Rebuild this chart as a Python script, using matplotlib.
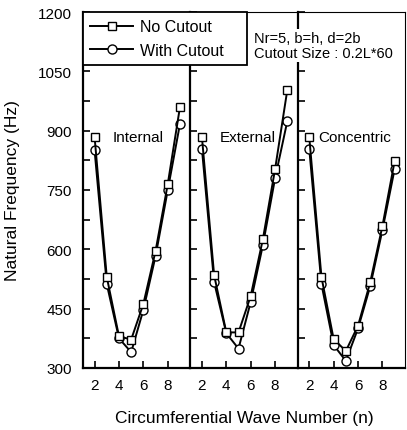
import numpy as np
import matplotlib.pyplot as plt
from matplotlib.ticker import MultipleLocator

plt.rcParams['font.family'] = ['Liberation Sans', 'DejaVu Sans']

# Numero de onda circunferencial
n = [2, 3, 4, 5, 6, 7, 8, 9]

# Frecuencias naturales (Hz) por tipo de recorte
internal_no = [884, 530, 380, 372, 462, 596, 765, 960]
internal_with = [850, 512, 375, 340, 447, 583, 750, 917]
external_no = [884, 535, 390, 390, 482, 626, 803, 1003]
external_with = [854, 517, 388, 349, 467, 611, 780, 924]
concentric_no = [884, 530, 373, 343, 407, 517, 659, 823]
concentric_with = [854, 512, 358, 318, 400, 507, 649, 803]

panels = [('Internal', internal_no, internal_with, 0.28),
          ('External', external_no, external_with, 0.27),
          ('Concentric', concentric_no, concentric_with, 0.19)]

fig = plt.figure(figsize=(4.07, 4.31), dpi=100)
left, right = 83 / 407, 405 / 407
bottom, top = 1 - 369 / 431, 1 - 13 / 431
w = (right - left) / 3

axes = []
for i, (name, y_no, y_with, tx) in enumerate(panels):
    ax = fig.add_axes([left + i * w, bottom, w, top - bottom])
    l2, = ax.plot(n, y_with, color='black', lw=1.4, marker='o', ms=6.5,
                  mfc='white', mec='black', mew=1.0, zorder=2)
    l1, = ax.plot(n, y_no, color='black', lw=1.4, marker='s', ms=5.5,
                  mfc='white', mec='black', mew=1.0, zorder=3)
    ax.set_xlim(1.05, 9.85)
    ax.set_ylim(300, 1200)
    ax.set_xticks([2, 4, 6, 8])
    ax.yaxis.set_major_locator(MultipleLocator(150))
    ax.yaxis.set_minor_locator(MultipleLocator(75))
    ax.tick_params(which='both', direction='in', length=5, width=1.2,
                   labelsize=11, top=False, right=False)
    ax.tick_params(axis='x', pad=7)
    ax.tick_params(axis='y', pad=8)
    if i > 0:
        ax.tick_params(axis='y', labelleft=False)
    for side in ['left', 'bottom']:
        ax.spines[side].set_linewidth(1.6)
    ax.spines['top'].set_linewidth(0.8)
    ax.spines['right'].set_visible(i == 2)
    ax.spines['right'].set_linewidth(0.8)
    ax.text(tx, 0.65, name, transform=ax.transAxes, fontsize=11,
            va='center', ha='left')
    axes.append(ax)

axes[0].set_ylabel('Natural Frequency (Hz)', fontsize=12.5, labelpad=13)

fig.text((left + right) / 2, 1 - 419 / 431, 'Circumferential Wave Number (n)',
         ha='center', va='center', fontsize=12.5)

fig.text(254 / 407, 1 - 46.5 / 431, 'Nr=5, b=h, d=2b\nCutout Size : 0.2L*60',
         fontsize=10.5, ha='left', va='center', linespacing=1.15,
         bbox=dict(facecolor='white', edgecolor='none', pad=1.5))

leg_w = (247 - 83) / 407
leg_h = (68 - 13) / 431
leg = fig.legend([l1, l2], ['No Cutout', 'With Cutout'],
                 loc='upper left', bbox_to_anchor=(left, top - leg_h, leg_w, leg_h),
                 mode='expand', fontsize=11.5, fancybox=False, framealpha=1,
                 edgecolor='black', borderaxespad=0, handlelength=2.7,
                 handletextpad=0.4, borderpad=0.45, labelspacing=0.55)
leg.get_frame().set_linewidth(1.3)

fig.savefig('out.png', dpi=100)
